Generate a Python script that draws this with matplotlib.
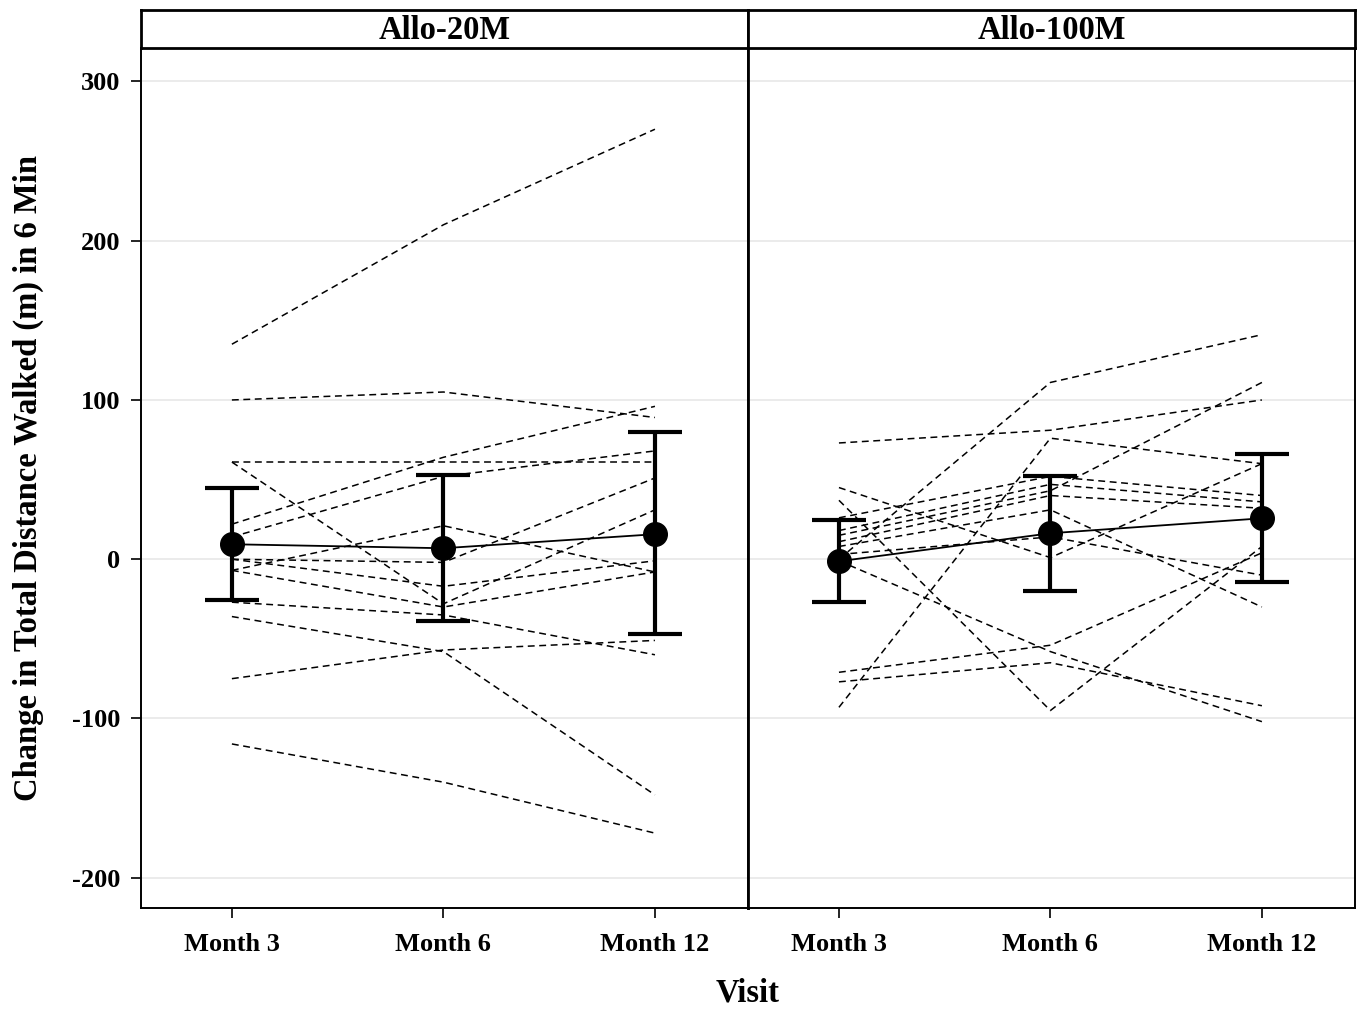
import numpy as np
import matplotlib
matplotlib.use('Agg')
import matplotlib.pyplot as plt

plt.rcParams['font.family'] = ['Liberation Serif', 'DejaVu Serif']
plt.rcParams['font.weight'] = 'bold'

visits = ['Month 3', 'Month 6', 'Month 12']
panels = ['Allo-20M', 'Allo-100M']

# individual subject trajectories (change from baseline, m)
allo20_subjects = [
    [135, 210, 270],
    [100, 105, 89],
    [22, 64, 96],
    [14, 52, 68],
    [61, 61, 61],
    [61, -28, 31],
    [0, -2, 51],
    [-7, 21, -8],
    [0, -17, -1],
    [-7, -30, -8],
    [-27, -35, -60],
    [-36, -58, -148],
    [-75, -57, -51],
    [-116, -140, -172],
]
allo100_subjects = [
    [73, 81, 100],
    [0, 111, 141],
    [-93, 76, 60],
    [45, 1, 60],
    [37, -95, 8],
    [-71, -54, 4],
    [-77, -65, -92],
    [-1, -58, -102],
    [26, 52, 40],
    [18, 47, 36],
    [15, 43, 111],
    [11, 40, 32],
    [8, 31, -30],
    [3, 14, -10],
]

# means with 95% CI
allo20_mean = [9.4, 6.9, 15.7]
allo20_lower = [-25.7, -38.9, -47]
allo20_upper = [44.6, 52.7, 79.7]
allo100_mean = [-1.3, 16.3, 25.7]
allo100_lower = [-27, -20, -14.4]
allo100_upper = [24.5, 52.1, 65.9]

yticks = [-200, -100, 0, 100, 200, 300]


def draw_panel(ax, subjects, mean, lower, upper):
    x = np.arange(len(visits))
    for s in subjects:
        ax.plot(x, s, color='black', lw=1.1, ls=(0, (4.5, 3)), zorder=2)
    mean = np.array(mean)
    yerr = [mean - np.array(lower), np.array(upper) - mean]
    ax.errorbar(x, mean, yerr=yerr, fmt='-o', color='black', lw=1.3, ms=17,
                elinewidth=3, capsize=19.5, capthick=3, zorder=3)
    ax.set_xlim(-0.43, 2.44)
    ax.set_ylim(-219, 321)
    ax.set_xticks(x)
    ax.set_xticklabels(visits, fontsize=19, fontweight='bold')
    ax.set_yticks(yticks)
    ax.grid(axis='y', color='#e8e8e8', lw=1.2, zorder=0)
    ax.set_axisbelow(True)
    ax.tick_params(axis='x', length=7, width=1.2, pad=11)
    ax.tick_params(axis='y', length=7, width=1.2, pad=8)
    for sp in ax.spines.values():
        sp.set_linewidth(1.4)


def main():
    fig = plt.figure(figsize=(13.63, 10.11), dpi=100)
    left, mid, right = 0.1034, 0.5488, 0.9941
    bottom, top, strip_top = 0.1019, 0.9525, 0.9901

    ax1 = fig.add_axes([left, bottom, mid - left, top - bottom])
    ax2 = fig.add_axes([mid, bottom, right - mid, top - bottom], sharey=ax1)
    draw_panel(ax1, allo20_subjects, allo20_mean, allo20_lower, allo20_upper)
    draw_panel(ax2, allo100_subjects, allo100_mean, allo100_lower, allo100_upper)

    ax1.set_yticklabels([str(v) for v in yticks], fontsize=19, fontweight='bold')
    ax2.tick_params(axis='y', left=False, labelleft=False)
    ax1.spines['right'].set_linewidth(2)
    ax2.spines['left'].set_linewidth(2)
    ax1.set_ylabel('Change in Total Distance Walked (m) in 6 Min', fontsize=23.5,
                   fontweight='bold', labelpad=20)

    # panel header strips
    for lft, wid, name in [(left, mid - left, panels[0]), (mid, right - mid, panels[1])]:
        st = fig.add_axes([lft, top, wid, strip_top - top])
        st.set_xticks([])
        st.set_yticks([])
        for sp in st.spines.values():
            sp.set_linewidth(2)
        st.text(0.5, 0.45, name, ha='center', va='center', fontsize=23.5,
                fontweight='bold', transform=st.transAxes)

    fig.text(mid, 0.0178, 'Visit', ha='center', va='center', fontsize=23.5, fontweight='bold')

    fig.savefig('out.png', dpi=100)


if __name__ == '__main__':
    main()
